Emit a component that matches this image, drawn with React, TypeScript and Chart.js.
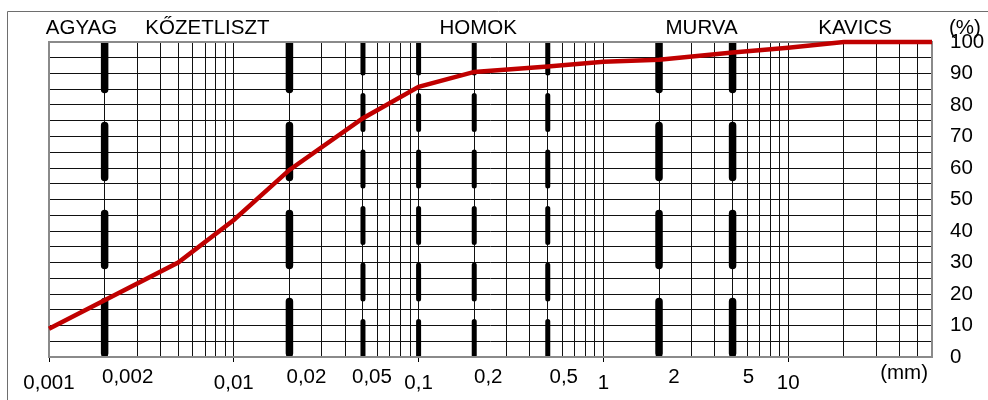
import React, { useEffect, useRef } from 'react';
import { Chart, registerables } from 'chart.js';

Chart.register(...registerables);

// ---- data ----
const GRAIN_SIZE_MM = [0.001, 0.005, 0.01, 0.02, 0.05, 0.1, 0.2, 0.5, 1, 2, 5, 10, 20, 60];
const PASSING_PCT = [9, 30, 43.5, 59.4, 75.8, 85.8, 90.5, 92.2, 93.7, 94.4, 96.7, 98.2, 100, 100];

const X_MIN = 0.001;
const X_MAX = 60;
const DECADE_VALUES = [0.001, 0.01, 0.1, 1, 10];
const DECADE_LABELS = ['0,001', '0,01', '0,1', '1', '10'];
const MINOR_LABEL_VALUES = [0.002, 0.02, 0.05, 0.2, 0.5, 2, 5];
const MINOR_LABELS = ['0,002', '0,02', '0,05', '0,2', '0,5', '2', '5'];
const Y_MIN = 0;
const Y_MAX = 100;
const Y_TICK_STEP = 5;
const Y_LABEL_STEP = 10;

const LONG_DASH_AT = [0.002, 0.02, 2, 5];
const SHORT_DASH_AT = [0.05, 0.1, 0.2, 0.5];

const SOIL_NAMES = ['AGYAG', 'KŐZETLISZT', 'HOMOK', 'MURVA', 'KAVICS'];
const SOIL_NAME_AT = [0.0015, 0.0072, 0.21, 3.4, 23];

// grid line positions on the log axis (1..9 in each decade, then 20..60)
const GRID_VALUES: number[] = [];
for (const d of [0.001, 0.01, 0.1, 1]) {
  for (let m = 1; m <= 9; m++) GRID_VALUES.push(Number((m * d).toPrecision(6)));
}
GRID_VALUES.push(10, 20, 30, 40, 50, 60);

const Y_GRID_VALUES: number[] = [];
for (let v = Y_MIN; v <= Y_MAX; v += Y_TICK_STEP) Y_GRID_VALUES.push(v);

// ---- styling ----
const FONT = '"Liberation Sans", Arial, sans-serif';
const FONT_SIZE = 20.5;
const MINOR_LABEL_SHIFT = [23, 17, 9, 14, 16, 15, 16];

const isDecade = (v: number) => DECADE_VALUES.some((d) => Math.abs(v / d - 1) < 1e-6);
const decadeLabel = (v: number) => {
  const i = DECADE_VALUES.findIndex((d) => Math.abs(v / d - 1) < 1e-6);
  return i >= 0 ? DECADE_LABELS[i] : '';
};

const overlayPlugin = {
  id: 'overlay',
  beforeDraw(chart: any) {
    const { ctx } = chart;
    ctx.save();
    ctx.strokeStyle = '#6e6e6e';
    ctx.lineWidth = 1;
    ctx.beginPath();
    ctx.moveTo(7.5, 1000);
    ctx.lineTo(7.5, 11.5);
    ctx.lineTo(1200, 11.5);
    ctx.stroke();
    ctx.restore();
  },
  beforeDatasetsDraw(chart: any) {
    const { ctx, chartArea: a } = chart;
    const xs = chart.scales.x;
    ctx.save();
    ctx.beginPath();
    ctx.rect(a.left, a.top, a.right - a.left, a.bottom - a.top);
    ctx.clip();
    ctx.strokeStyle = '#000';
    ctx.lineCap = 'round';
    const drawDashed = (vals: number[], w: number, dash: number[], startOff: number) => {
      ctx.lineWidth = w;
      ctx.setLineDash(dash);
      for (const v of vals) {
        const px = xs.getPixelForValue(v);
        ctx.beginPath();
        ctx.moveTo(px, a.bottom - startOff);
        ctx.lineTo(px, a.top - 20);
        ctx.stroke();
      }
    };
    drawDashed(LONG_DASH_AT, 7.5, [52, 36], 3.5);
    drawDashed(SHORT_DASH_AT, 5, [34, 22.5], 1.5);
    ctx.restore();

    ctx.save();
    ctx.strokeStyle = '#8a8a8a';
    ctx.lineWidth = 2;
    ctx.strokeRect(a.left, a.top, a.right - a.left, a.bottom - a.top);
    ctx.restore();
  },
  afterDraw(chart: any) {
    const { ctx, chartArea: a } = chart;
    const xs = chart.scales.x;
    ctx.save();
    ctx.fillStyle = '#000';
    ctx.font = `${FONT_SIZE}px ${FONT}`;
    ctx.textBaseline = 'middle';
    ctx.textAlign = 'center';
    SOIL_NAMES.forEach((name, i) => {
      ctx.fillText(name, xs.getPixelForValue(SOIL_NAME_AT[i]), a.top - 14);
    });
    MINOR_LABELS.forEach((lab, i) => {
      ctx.fillText(lab, xs.getPixelForValue(MINOR_LABEL_VALUES[i]) + MINOR_LABEL_SHIFT[i], a.bottom + 20);
    });
    ctx.textAlign = 'right';
    ctx.fillText('(mm)', a.right - 4, a.bottom + 16);
    ctx.textAlign = 'left';
    ctx.fillText('(%)', a.right + 17, a.top - 14);
    ctx.restore();
  },
};

export default function App() {
  const ref = useRef<HTMLCanvasElement | null>(null);

  useEffect(() => {
    if (!ref.current) return;
    const chart = new Chart(ref.current, {
      type: 'line',
      data: {
        datasets: [
          {
            data: GRAIN_SIZE_MM.map((x, i) => ({ x, y: PASSING_PCT[i] })),
            borderColor: '#C00000',
            borderWidth: 4.5,
            pointRadius: 0,
            tension: 0,
            fill: false,
            clip: 4,
          },
        ],
      },
      options: {
        animation: false,
        responsive: false,
        devicePixelRatio: 1,
        layout: { padding: { left: 49, top: 42, right: 0, bottom: 0 } },
        plugins: { legend: { display: false }, tooltip: { enabled: false } },
        scales: {
          x: {
            type: 'logarithmic',
            min: X_MIN,
            max: X_MAX,
            afterBuildTicks: (scale: any) => {
              scale.ticks = GRID_VALUES.map((v) => ({ value: v }));
            },
            afterFit: (scale: any) => {
              scale.height = 43;
            },
            ticks: {
              autoSkip: false,
              maxRotation: 0,
              minRotation: 0,
              padding: 9,
              color: '#000',
              font: { family: FONT, size: FONT_SIZE },
              callback: (v: any) => decadeLabel(Number(v)),
            },
            grid: {
              color: '#111',
              lineWidth: 1,
              drawTicks: true,
              tickLength: 5,
              tickColor: (c: any) => (c.tick && isDecade(c.tick.value) ? '#000' : 'rgba(0,0,0,0)'),
            },
            border: { display: false },
          },
          y: {
            position: 'right',
            min: Y_MIN,
            max: Y_MAX,
            afterBuildTicks: (scale: any) => {
              scale.ticks = Y_GRID_VALUES.map((v) => ({ value: v }));
            },
            afterFit: (scale: any) => {
              scale.width = 56;
            },
            ticks: {
              autoSkip: false,
              padding: 18,
              color: '#000',
              font: { family: FONT, size: FONT_SIZE },
              callback: (v: any) => (Number(v) % Y_LABEL_STEP === 0 ? String(v) : ''),
            },
            grid: { color: '#111', lineWidth: 1, drawTicks: false },
            border: { display: false },
          },
        },
      },
      plugins: [overlayPlugin],
    } as any);
    return () => chart.destroy();
  }, []);

  return (
    <div style={{ position: 'fixed', left: 0, top: 0, width: 988, height: 400, background: '#fff' }}>
      <canvas ref={ref} width={988} height={400} style={{ display: 'block' }} />
    </div>
  );
}
